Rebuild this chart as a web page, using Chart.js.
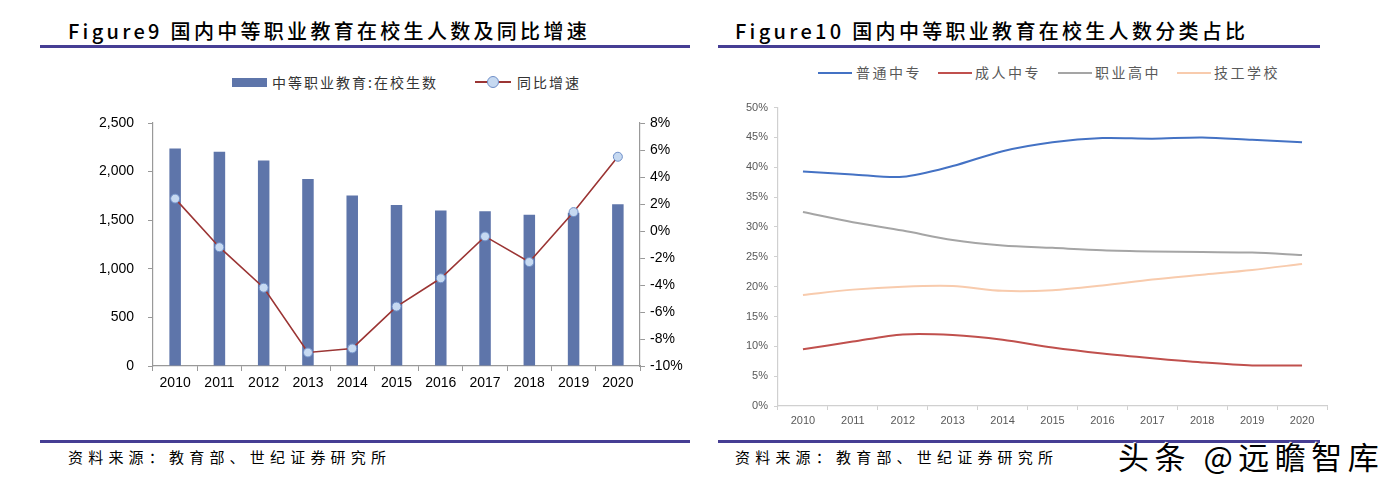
<!DOCTYPE html>
<html><head><meta charset="utf-8">
<script src="https://cdn.jsdelivr.net/npm/chart.js@4.4.1/dist/chart.umd.min.js"></script>
<style>
html,body{margin:0;padding:0;background:#fff;}
body{width:1388px;height:489px;position:relative;overflow:hidden;font-family:"Noto Sans CJK SC",sans-serif;}
.abs{position:absolute;}
.title{font-size:20px;letter-spacing:3.3px;color:#000;white-space:nowrap;line-height:24px;font-weight:500;}
.rule{height:3px;background:#463E94;}
.foot{font-size:15px;letter-spacing:5.2px;color:#000;white-space:nowrap;line-height:20px;}
.leg{font-size:14px;letter-spacing:2px;color:#333;white-space:nowrap;line-height:18px;}
.leg2{font-size:14px;letter-spacing:2.5px;color:#595959;white-space:nowrap;line-height:18px;}
</style></head>
<body>
<div class="abs title" style="left:68px;top:19px;">Figure9 国内中等职业教育在校生人数及同比增速</div>
<div class="abs rule" style="left:40px;top:45px;width:650px;"></div>
<div class="abs title" style="left:735px;top:19px;">Figure10 国内中等职业教育在校生人数分类占比</div>
<div class="abs rule" style="left:718px;top:45px;width:602px;"></div>

<!-- left legend -->
<div class="abs" style="left:232px;top:78px;width:35px;height:9px;background:#5E75AA;"></div>
<div class="abs leg" style="left:272px;top:73px;">中等职业教育:在校生数</div>
<div class="abs" style="left:475px;top:81px;width:36px;height:2px;background:#9B3534;"></div>
<div class="abs" style="left:487px;top:76px;width:10px;height:10px;border-radius:50%;background:#C6D9F1;border:1px solid #6F8FC8;"></div>
<div class="abs leg" style="left:517px;top:73px;">同比增速</div>

<!-- right legend -->
<div class="abs" style="left:818px;top:72px;width:34px;height:2px;background:#4472C4;"></div>
<div class="abs leg2" style="left:856px;top:63px;">普通中专</div>
<div class="abs" style="left:938px;top:72px;width:34px;height:2px;background:#C0504D;"></div>
<div class="abs leg2" style="left:975px;top:63px;">成人中专</div>
<div class="abs" style="left:1058px;top:72px;width:34px;height:2px;background:#A5A5A5;"></div>
<div class="abs leg2" style="left:1095px;top:63px;">职业高中</div>
<div class="abs" style="left:1177px;top:72px;width:34px;height:2px;background:#F8CBAD;"></div>
<div class="abs leg2" style="left:1214px;top:63px;">技工学校</div>

<div class="abs" style="left:40px;top:100px;width:650px;height:300px;"><canvas id="c1" width="650" height="300"></canvas></div>
<div class="abs" style="left:715px;top:95px;width:673px;height:330px;"><canvas id="c2" width="673" height="330"></canvas></div>

<div class="abs rule" style="left:40px;top:440px;width:650px;"></div>
<div class="abs rule" style="left:718px;top:440px;width:602px;"></div>
<div class="abs foot" style="left:68px;top:447px;">资料来源：教育部、世纪证券研究所</div>
<div class="abs foot" style="left:735px;top:447px;">资料来源：教育部、世纪证券研究所</div>
<div class="abs" style="left:1118px;top:436px;font-size:31px;letter-spacing:5.5px;line-height:40px;color:#000;white-space:nowrap;text-shadow:1px 1px 0 #fff,-1px -1px 0 #fff,2px 2px 1px #fff;">头条 @远瞻智库</div>

<script>
const years = ['2010','2011','2012','2013','2014','2015','2016','2017','2018','2019','2020'];
const enrolment = [2238.5, 2205.3, 2113.7, 1923.0, 1755.3, 1656.7, 1599.0, 1592.5, 1555.3, 1576.5, 1663.4];
const growthPct = [2.4, -1.2, -4.2, -9.0, -8.7, -5.6, -3.5, -0.4, -2.3, 1.4, 5.5];
const leftTicks = [0, 500, 1000, 1500, 2000, 2500];
const rightTicks = [-10, -8, -6, -4, -2, 0, 2, 4, 6, 8];

const putongZhongzhuan = [39.3, 38.8, 38.4, 40.2, 42.7, 44.2, 44.9, 44.8, 45.0, 44.6, 44.2];
const chengrenZhongzhuan = [9.5, 10.8, 12.0, 11.9, 11.1, 9.8, 8.8, 8.0, 7.3, 6.8, 6.8];
const zhiyeGaozhong = [32.5, 30.8, 29.4, 27.8, 26.9, 26.5, 26.1, 25.9, 25.8, 25.7, 25.3];
const jigongXuexiao = [18.6, 19.5, 20.0, 20.1, 19.3, 19.4, 20.2, 21.2, 22.0, 22.8, 23.8];
const shareTicks = [0, 5, 10, 15, 20, 25, 30, 35, 40, 45, 50];

const fontLat = 'Arial, "Liberation Sans", sans-serif';

new Chart(document.getElementById('c1'), {
  data: {
    labels: years,
    datasets: [
      { type: 'line', label: '同比增速', data: growthPct, yAxisID: 'y2',
        borderColor: '#9B3534', borderWidth: 1.6, tension: 0,
        pointRadius: 4.5, pointBackgroundColor: '#C6D9F1', pointBorderColor: '#6F8FC8', pointBorderWidth: 1, order: 0 },
      { type: 'bar', label: '中等职业教育:在校生数', data: enrolment, yAxisID: 'y',
        backgroundColor: '#5E75AA', barPercentage: 0.26, categoryPercentage: 1, order: 1 }
    ]
  },
  options: {
    responsive: false, animation: false,
    layout: { padding: { top: 23, left: 0, right: 0, bottom: 0 } },
    plugins: { legend: { display: false }, tooltip: { enabled: false } },
    scales: {
      x: { offset: true,
        grid: { display: true, drawOnChartArea: false, drawTicks: true, tickLength: 5, color: '#999', offset: true },
        border: { color: '#999', width: 1.2 },
        ticks: { color: '#000', font: { family: fontLat, size: 14 }, padding: 4, maxRotation: 0 },
        afterFit: s => { s.height = 34; } },
      y: { position: 'left', min: 0, max: 2500,
        afterBuildTicks: s => { s.ticks = leftTicks.map(v => ({ value: v })); },
        grid: { drawOnChartArea: false, drawTicks: true, tickLength: 5, color: '#999' },
        border: { color: '#999', width: 1.2 },
        ticks: { color: '#000', font: { family: fontLat, size: 14 }, padding: 14,
          callback: v => v.toLocaleString('en-US') },
        afterFit: s => { s.width = 113; } },
      y2: { position: 'right', min: -10, max: 8,
        afterBuildTicks: s => { s.ticks = rightTicks.map(v => ({ value: v })); },
        grid: { drawOnChartArea: false, drawTicks: true, tickLength: 5, color: '#999' },
        border: { color: '#999', width: 1.2 },
        ticks: { color: '#000', font: { family: fontLat, size: 14 }, padding: 5,
          callback: v => v + '%' },
        afterFit: s => { s.width = 50; } }
    }
  }
});

new Chart(document.getElementById('c2'), {
  type: 'line',
  data: {
    labels: years,
    datasets: [
      { label: '普通中专', data: putongZhongzhuan, borderColor: '#4472C4' },
      { label: '成人中专', data: chengrenZhongzhuan, borderColor: '#C0504D' },
      { label: '职业高中', data: zhiyeGaozhong, borderColor: '#A5A5A5' },
      { label: '技工学校', data: jigongXuexiao, borderColor: '#F8CBAD' }
    ].map(d => Object.assign(d, { borderWidth: 2, pointRadius: 0, tension: 0.3, fill: false }))
  },
  options: {
    responsive: false, animation: false,
    layout: { padding: { top: 11, left: 0, right: 61, bottom: 0 } },
    plugins: { legend: { display: false }, tooltip: { enabled: false } },
    scales: {
      x: { offset: true,
        grid: { display: true, drawOnChartArea: false, drawTicks: true, tickLength: 4, color: '#D0D0D0', offset: true },
        border: { color: '#D0D0D0', width: 1.2 },
        ticks: { color: '#595959', font: { family: fontLat, size: 11 }, padding: 4, maxRotation: 0 },
        afterFit: s => { s.height = 19; } },
      y: { min: 0, max: 50,
        afterBuildTicks: s => { s.ticks = shareTicks.map(v => ({ value: v })); },
        grid: { drawOnChartArea: false, drawTicks: true, tickLength: 4, color: '#D0D0D0' },
        border: { color: '#D0D0D0', width: 1.2 },
        ticks: { color: '#595959', font: { family: fontLat, size: 11 }, padding: 6,
          callback: v => v + '%' },
        afterFit: s => { s.width = 63; } }
    }
  }
});
</script>
</body></html>
